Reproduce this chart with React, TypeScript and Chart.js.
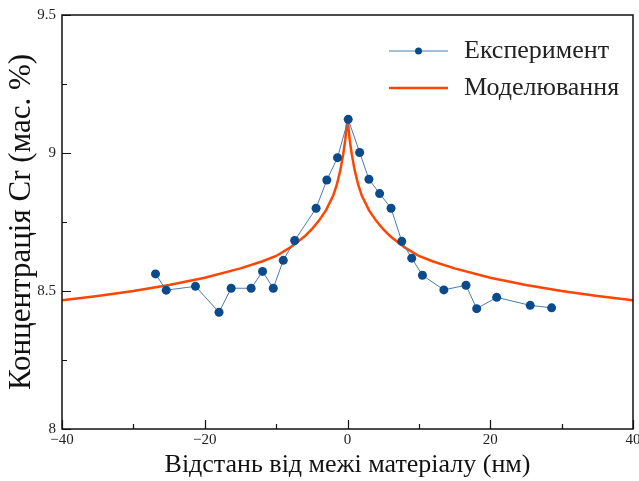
import React, { useEffect, useRef } from 'react';
import { Chart, registerables } from 'chart.js';

Chart.register(...registerables);

// Experiment: distance (nm) and Cr concentration (wt. %)
const expX = [-26.9, -25.4, -21.3, -18.0, -16.3, -13.5, -11.9, -10.4, -9.0, -7.4, -4.4, -2.9, -1.4, 0.1, 1.7, 3.0, 4.5, 6.1, 7.6, 9.0, 10.5, 13.5, 16.6, 18.1, 20.9, 25.6, 28.6];
const expY = [8.562, 8.503, 8.517, 8.423, 8.510, 8.510, 8.571, 8.510, 8.611, 8.683, 8.800, 8.902, 8.983, 9.122, 9.002, 8.905, 8.853, 8.800, 8.680, 8.619, 8.557, 8.504, 8.521, 8.436, 8.477, 8.448, 8.439];

// Model curve
const modelX = [-40, -35, -30, -25, -20, -15, -12, -10, -8, -6, -5, -4, -3, -2, -1.5, -1, -0.6, -0.3, -0.1, 0, 0.1, 0.3, 0.6, 1, 1.5, 2, 3, 4, 5, 6, 8, 10, 12, 15, 20, 25, 30, 35, 40];
const modelY = [8.466, 8.482, 8.500, 8.522, 8.548, 8.582, 8.607, 8.627, 8.658, 8.698, 8.724, 8.755, 8.793, 8.846, 8.885, 8.938, 8.995, 9.050, 9.100, 9.130, 9.100, 9.050, 8.995, 8.938, 8.885, 8.846, 8.793, 8.755, 8.724, 8.698, 8.658, 8.627, 8.607, 8.582, 8.548, 8.522, 8.500, 8.482, 8.466];

const xMajorTicks = [-40, -20, 0, 20, 40];
const xMinorTicks = [-30, -10, 10, 30];
const yMajorTicks = [8, 8.5, 9, 9.5];
const yMinorTicks = [8.25, 8.75, 9.25];

const seriesNames = ['Експеримент', 'Моделювання'];
const xTitle = 'Відстань від межі матеріалу (нм)';
const yTitle = 'Концентрація Cr (мас. %)';

const EXP_LINE = '#4a7ab5';
const EXP_POINT = '#0b4a8b';
const MODEL_COLOR = '#ff4500';
const FONT = '"Liberation Serif", "Times New Roman", serif';

const fmt = (v: number) => (v < 0 ? '\u2212' + String(Math.abs(v)) : String(v));

const framePlugin = {
  id: 'frameTicks',
  afterDraw(chart: any) {
    const { ctx, chartArea } = chart;
    const { left, right, top, bottom } = chartArea;
    const xs = chart.scales.x;
    const ys = chart.scales.y;
    ctx.save();
    ctx.strokeStyle = '#111';
    ctx.lineWidth = 1.5;
    ctx.strokeRect(left, top, right - left, bottom - top);

    ctx.lineWidth = 1.2;
    ctx.beginPath();
    xMajorTicks.forEach((v) => {
      const px = Math.round(xs.getPixelForValue(v)) + 0.5;
      ctx.moveTo(px, bottom);
      ctx.lineTo(px, bottom - 9);
    });
    xMinorTicks.forEach((v) => {
      const px = Math.round(xs.getPixelForValue(v)) + 0.5;
      ctx.moveTo(px, bottom);
      ctx.lineTo(px, bottom - 5);
    });
    yMajorTicks.forEach((v) => {
      const py = Math.round(ys.getPixelForValue(v)) + 0.5;
      ctx.moveTo(left, py);
      ctx.lineTo(left + 9, py);
    });
    yMinorTicks.forEach((v) => {
      const py = Math.round(ys.getPixelForValue(v)) + 0.5;
      ctx.moveTo(left, py);
      ctx.lineTo(left + 5, py);
    });
    ctx.stroke();

    // tick labels
    ctx.fillStyle = '#222';
    ctx.font = '15px ' + FONT;
    ctx.textAlign = 'center';
    ctx.textBaseline = 'top';
    xMajorTicks.forEach((v) => {
      ctx.fillText(fmt(v), xs.getPixelForValue(v), bottom + 4);
    });
    ctx.textAlign = 'right';
    ctx.textBaseline = 'middle';
    yMajorTicks.forEach((v) => {
      ctx.fillText(String(v), left - 6, ys.getPixelForValue(v));
    });

    // legend
    const lx0 = 389;
    const lx1 = 448;
    const ly0 = 51;
    const ly1 = 88;
    ctx.strokeStyle = EXP_LINE;
    ctx.lineWidth = 1;
    ctx.beginPath();
    ctx.moveTo(lx0, ly0);
    ctx.lineTo(lx1, ly0);
    ctx.stroke();
    ctx.fillStyle = EXP_POINT;
    ctx.beginPath();
    ctx.arc((lx0 + lx1) / 2, ly0, 3.5, 0, Math.PI * 2);
    ctx.fill();
    ctx.strokeStyle = MODEL_COLOR;
    ctx.lineWidth = 2.5;
    ctx.beginPath();
    ctx.moveTo(lx0, ly1);
    ctx.lineTo(lx1, ly1);
    ctx.stroke();
    ctx.fillStyle = '#222';
    ctx.font = '26px ' + FONT;
    ctx.textAlign = 'left';
    ctx.textBaseline = 'middle';
    ctx.fillText(seriesNames[0], 464, ly0);
    ctx.fillText(seriesNames[1], 464, ly1);
    ctx.restore();
  },
};

export default function App() {
  const ref = useRef<HTMLCanvasElement | null>(null);
  useEffect(() => {
    document.body.style.margin = '0';
    const canvas = ref.current;
    if (!canvas) return;
    const chart = new Chart(canvas, {
      type: 'line',
      data: {
        datasets: [
          {
            label: seriesNames[0],
            data: expX.map((x, i) => ({ x, y: expY[i] })),
            borderColor: EXP_LINE,
            borderWidth: 1,
            pointRadius: 4.5,
            pointBackgroundColor: EXP_POINT,
            pointBorderColor: EXP_POINT,
            pointBorderWidth: 0,
            tension: 0,
            order: 0,
          },
          {
            label: seriesNames[1],
            data: modelX.map((x, i) => ({ x, y: modelY[i] })),
            borderColor: MODEL_COLOR,
            borderWidth: 2.5,
            pointRadius: 0,
            tension: 0,
            order: 1,
          },
        ],
      },
      options: {
        responsive: false,
        animation: false,
        layout: { padding: { top: 15, right: 6, left: 0, bottom: 0 } },
        plugins: { legend: { display: false }, tooltip: { enabled: false } },
        scales: {
          x: {
            type: 'linear',
            min: -40,
            max: 40,
            grid: { display: false, drawTicks: false },
            border: { display: false },
            ticks: { display: false, stepSize: 20 },
            title: {
              display: true,
              text: xTitle,
              font: { family: FONT, size: 26, lineHeight: 1 },
              color: '#111',
              padding: { top: 0, bottom: 3 },
            },
            afterFit: (s: any) => {
              s.height = 52;
            },
          },
          y: {
            type: 'linear',
            min: 8,
            max: 9.5,
            grid: { display: false, drawTicks: false },
            border: { display: false },
            ticks: { display: false, stepSize: 0.5 },
            title: {
              display: true,
              text: yTitle,
              font: { family: FONT, size: 31, lineHeight: 1 },
              color: '#111',
              padding: { top: 6, bottom: 0 },
            },
            afterFit: (s: any) => {
              s.width = 62;
            },
          },
        },
      },
      plugins: [framePlugin],
    });
    return () => chart.destroy();
  }, []);
  return (
    <div style={{ width: 639, height: 481 }}>
      <canvas ref={ref} width={639} height={481} style={{ display: 'block', width: 639, height: 481 }} />
    </div>
  );
}
